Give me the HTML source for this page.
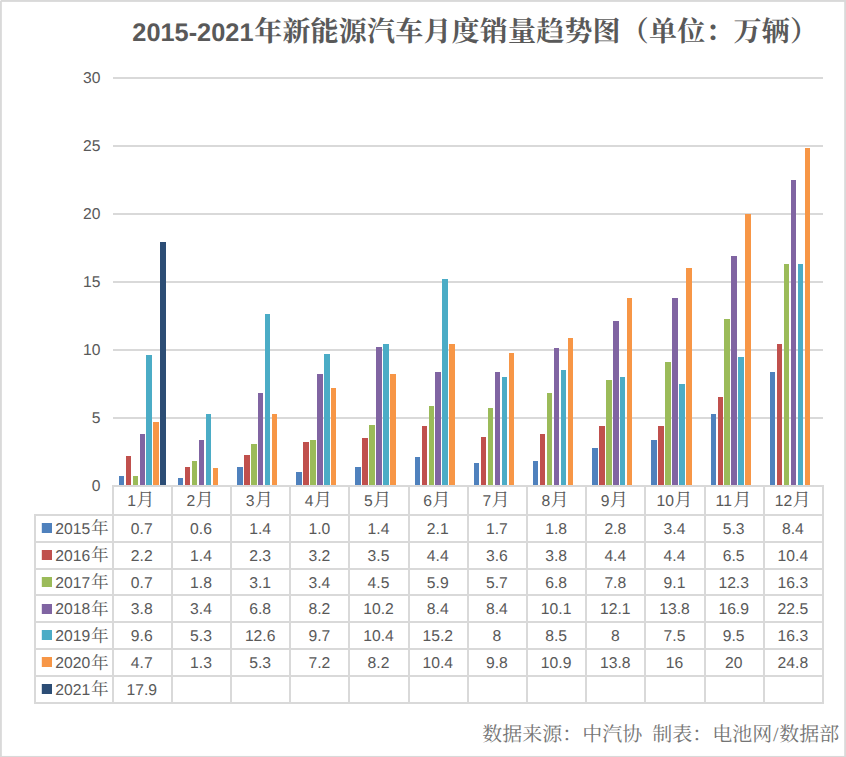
<!DOCTYPE html>
<html lang="zh"><head><meta charset="utf-8"><title>2015-2021 NEV monthly sales</title>
<style>html,body{margin:0;padding:0;background:#fff}svg{display:block}text{font-family:"Liberation Sans", sans-serif;fill:#595959;text-rendering:geometricPrecision}text.cjk{font-family:"Liberation Serif","Noto Serif CJK SC",serif}</style></head><body>
<svg width="846" height="757" viewBox="0 0 846 757" role="img" aria-label="2015-2021年新能源汽车月度销量趋势图（单位：万辆）">
<desc>2015-2021年新能源汽车月度销量趋势图（单位：万辆）。数据来源：中汽协 制表：电池网/数据部</desc>
<rect width="846" height="757" fill="#fff"/>
<g fill="#d9d9d9"><rect x="0" y="0" width="846" height="1.9"/><rect x="0" y="0" width="1.85" height="757"/><rect x="844.2" y="0" width="1.8" height="757"/><rect x="0" y="755.95" width="846" height="1.05"/></g>
<rect x="0" y="0" width="1" height="1" fill="#f2f2f2"/>
<g fill="#d9d9d9">
<rect x="113" y="77" width="710" height="2"/>
<rect x="113" y="145" width="710" height="2"/>
<rect x="113" y="213" width="710" height="2"/>
<rect x="113" y="281" width="710" height="2"/>
<rect x="113" y="349" width="710" height="2"/>
<rect x="113" y="417" width="710" height="2"/>
</g>
<g fill="#4f81bd">
<rect x="119" y="476" width="5" height="10"/>
<rect x="178" y="478" width="5" height="8"/>
<rect x="237" y="467" width="6" height="19"/>
<rect x="296" y="472" width="6" height="14"/>
<rect x="355" y="467" width="6" height="19"/>
<rect x="415" y="457" width="5" height="29"/>
<rect x="474" y="463" width="5" height="23"/>
<rect x="533" y="461" width="5" height="25"/>
<rect x="592" y="448" width="6" height="38"/>
<rect x="651" y="440" width="6" height="46"/>
<rect x="711" y="414" width="5" height="72"/>
<rect x="770" y="372" width="5" height="114"/>
</g>
<g fill="#c0504d">
<rect x="126" y="456" width="5" height="30"/>
<rect x="185" y="467" width="5" height="19"/>
<rect x="244" y="455" width="6" height="31"/>
<rect x="303" y="442" width="6" height="44"/>
<rect x="362" y="438" width="6" height="48"/>
<rect x="422" y="426" width="5" height="60"/>
<rect x="481" y="437" width="5" height="49"/>
<rect x="540" y="434" width="5" height="52"/>
<rect x="599" y="426" width="6" height="60"/>
<rect x="658" y="426" width="6" height="60"/>
<rect x="718" y="397" width="5" height="89"/>
<rect x="777" y="344" width="5" height="142"/>
</g>
<g fill="#9bbb59">
<rect x="133" y="476" width="5" height="10"/>
<rect x="192" y="461" width="5" height="25"/>
<rect x="251" y="444" width="6" height="42"/>
<rect x="310" y="440" width="6" height="46"/>
<rect x="369" y="425" width="6" height="61"/>
<rect x="429" y="406" width="5" height="80"/>
<rect x="488" y="408" width="5" height="78"/>
<rect x="547" y="393" width="5" height="93"/>
<rect x="606" y="380" width="6" height="106"/>
<rect x="665" y="362" width="6" height="124"/>
<rect x="724" y="319" width="6" height="167"/>
<rect x="784" y="264" width="5" height="222"/>
</g>
<g fill="#8064a2">
<rect x="140" y="434" width="5" height="52"/>
<rect x="199" y="440" width="5" height="46"/>
<rect x="258" y="393" width="5" height="93"/>
<rect x="317" y="374" width="6" height="112"/>
<rect x="376" y="347" width="6" height="139"/>
<rect x="435" y="372" width="6" height="114"/>
<rect x="495" y="372" width="5" height="114"/>
<rect x="554" y="348" width="5" height="138"/>
<rect x="613" y="321" width="6" height="165"/>
<rect x="672" y="298" width="6" height="188"/>
<rect x="731" y="256" width="6" height="230"/>
<rect x="791" y="180" width="5" height="306"/>
</g>
<g fill="#4bacc6">
<rect x="146" y="355" width="6" height="131"/>
<rect x="206" y="414" width="5" height="72"/>
<rect x="265" y="314" width="5" height="172"/>
<rect x="324" y="354" width="6" height="132"/>
<rect x="383" y="344" width="6" height="142"/>
<rect x="442" y="279" width="6" height="207"/>
<rect x="502" y="377" width="5" height="109"/>
<rect x="561" y="370" width="5" height="116"/>
<rect x="620" y="377" width="5" height="109"/>
<rect x="679" y="384" width="6" height="102"/>
<rect x="738" y="357" width="6" height="129"/>
<rect x="798" y="264" width="5" height="222"/>
</g>
<g fill="#f79646">
<rect x="153" y="422" width="6" height="64"/>
<rect x="213" y="468" width="5" height="18"/>
<rect x="272" y="414" width="5" height="72"/>
<rect x="331" y="388" width="5" height="98"/>
<rect x="390" y="374" width="6" height="112"/>
<rect x="449" y="344" width="6" height="142"/>
<rect x="509" y="353" width="5" height="133"/>
<rect x="568" y="338" width="5" height="148"/>
<rect x="627" y="298" width="5" height="188"/>
<rect x="686" y="268" width="6" height="218"/>
<rect x="745" y="214" width="6" height="272"/>
<rect x="805" y="148" width="5" height="338"/>
</g>
<g fill="#2c4d75">
<rect x="160" y="242" width="6" height="244"/>
</g>
<g fill="#d9d9d9">
<rect x="112" y="485" width="712" height="2"/>
<rect x="34" y="514" width="790" height="2"/>
<rect x="34" y="541" width="790" height="2"/>
<rect x="34" y="568" width="790" height="2"/>
<rect x="34" y="594" width="790" height="2"/>
<rect x="34" y="621" width="790" height="2"/>
<rect x="34" y="648" width="790" height="2"/>
<rect x="34" y="675" width="790" height="2"/>
<rect x="34" y="702" width="790" height="2"/>
<rect x="34" y="514" width="2" height="190"/>
<rect x="112" y="485" width="2" height="219"/>
<rect x="171" y="485" width="2" height="219"/>
<rect x="230" y="485" width="2" height="219"/>
<rect x="289" y="485" width="2" height="219"/>
<rect x="348" y="485" width="2" height="219"/>
<rect x="408" y="485" width="2" height="219"/>
<rect x="467" y="485" width="2" height="219"/>
<rect x="526" y="485" width="2" height="219"/>
<rect x="585" y="485" width="2" height="219"/>
<rect x="644" y="485" width="2" height="219"/>
<rect x="704" y="485" width="2" height="219"/>
<rect x="763" y="485" width="2" height="219"/>
<rect x="822" y="485" width="2" height="219"/>
</g>
<g font-size="15.7" text-anchor="end">
<text transform="translate(100.40 491.00) scale(1 1.0)">0</text>
<text transform="translate(100.40 423.00) scale(1 1.0)">5</text>
<text transform="translate(100.40 355.00) scale(1 1.0)">10</text>
<text transform="translate(100.40 287.00) scale(1 1.0)">15</text>
<text transform="translate(100.40 219.00) scale(1 1.0)">20</text>
<text transform="translate(100.40 151.00) scale(1 1.0)">25</text>
<text transform="translate(100.40 83.00) scale(1 1.0)">30</text>
</g>
<g font-size="15.7">
<text transform="translate(127.26 505.60) scale(1 1.0)">1</text>
<text class="cjk" x="136.29" y="506.10" font-size="18.3">月</text>
<text transform="translate(186.45 505.60) scale(1 1.0)">2</text>
<text class="cjk" x="195.48" y="506.10" font-size="18.3">月</text>
<text transform="translate(245.64 505.60) scale(1 1.0)">3</text>
<text class="cjk" x="254.67" y="506.10" font-size="18.3">月</text>
<text transform="translate(304.83 505.60) scale(1 1.0)">4</text>
<text class="cjk" x="313.86" y="506.10" font-size="18.3">月</text>
<text transform="translate(364.02 505.60) scale(1 1.0)">5</text>
<text class="cjk" x="373.05" y="506.10" font-size="18.3">月</text>
<text transform="translate(423.21 505.60) scale(1 1.0)">6</text>
<text class="cjk" x="432.24" y="506.10" font-size="18.3">月</text>
<text transform="translate(482.40 505.60) scale(1 1.0)">7</text>
<text class="cjk" x="491.43" y="506.10" font-size="18.3">月</text>
<text transform="translate(541.59 505.60) scale(1 1.0)">8</text>
<text class="cjk" x="550.62" y="506.10" font-size="18.3">月</text>
<text transform="translate(600.78 505.60) scale(1 1.0)">9</text>
<text class="cjk" x="609.81" y="506.10" font-size="18.3">月</text>
<text transform="translate(656.41 505.60) scale(1 1.0)">10</text>
<text class="cjk" x="674.16" y="506.10" font-size="18.3">月</text>
<text transform="translate(715.60 505.60) scale(1 1.0)">11</text>
<text class="cjk" x="733.35" y="506.10" font-size="18.3">月</text>
<text transform="translate(774.79 505.60) scale(1 1.0)">12</text>
<text class="cjk" x="792.54" y="506.10" font-size="18.3">月</text>
</g>
<g font-size="15.7" text-anchor="middle">
<text transform="translate(141.78 533.80) scale(1 1.0)">0.7</text>
<text transform="translate(200.97 533.80) scale(1 1.0)">0.6</text>
<text transform="translate(260.15 533.80) scale(1 1.0)">1.4</text>
<text transform="translate(319.35 533.80) scale(1 1.0)">1.0</text>
<text transform="translate(378.53 533.80) scale(1 1.0)">1.4</text>
<text transform="translate(437.73 533.80) scale(1 1.0)">2.1</text>
<text transform="translate(496.91 533.80) scale(1 1.0)">1.7</text>
<text transform="translate(556.11 533.80) scale(1 1.0)">1.8</text>
<text transform="translate(615.30 533.80) scale(1 1.0)">2.8</text>
<text transform="translate(674.49 533.80) scale(1 1.0)">3.4</text>
<text transform="translate(733.67 533.80) scale(1 1.0)">5.3</text>
<text transform="translate(792.87 533.80) scale(1 1.0)">8.4</text>
<text transform="translate(141.78 560.66) scale(1 1.0)">2.2</text>
<text transform="translate(200.97 560.66) scale(1 1.0)">1.4</text>
<text transform="translate(260.15 560.66) scale(1 1.0)">2.3</text>
<text transform="translate(319.35 560.66) scale(1 1.0)">3.2</text>
<text transform="translate(378.53 560.66) scale(1 1.0)">3.5</text>
<text transform="translate(437.73 560.66) scale(1 1.0)">4.4</text>
<text transform="translate(496.91 560.66) scale(1 1.0)">3.6</text>
<text transform="translate(556.11 560.66) scale(1 1.0)">3.8</text>
<text transform="translate(615.30 560.66) scale(1 1.0)">4.4</text>
<text transform="translate(674.49 560.66) scale(1 1.0)">4.4</text>
<text transform="translate(733.67 560.66) scale(1 1.0)">6.5</text>
<text transform="translate(792.87 560.66) scale(1 1.0)">10.4</text>
<text transform="translate(141.78 587.51) scale(1 1.0)">0.7</text>
<text transform="translate(200.97 587.51) scale(1 1.0)">1.8</text>
<text transform="translate(260.15 587.51) scale(1 1.0)">3.1</text>
<text transform="translate(319.35 587.51) scale(1 1.0)">3.4</text>
<text transform="translate(378.53 587.51) scale(1 1.0)">4.5</text>
<text transform="translate(437.73 587.51) scale(1 1.0)">5.9</text>
<text transform="translate(496.91 587.51) scale(1 1.0)">5.7</text>
<text transform="translate(556.11 587.51) scale(1 1.0)">6.8</text>
<text transform="translate(615.30 587.51) scale(1 1.0)">7.8</text>
<text transform="translate(674.49 587.51) scale(1 1.0)">9.1</text>
<text transform="translate(733.67 587.51) scale(1 1.0)">12.3</text>
<text transform="translate(792.87 587.51) scale(1 1.0)">16.3</text>
<text transform="translate(141.78 614.37) scale(1 1.0)">3.8</text>
<text transform="translate(200.97 614.37) scale(1 1.0)">3.4</text>
<text transform="translate(260.15 614.37) scale(1 1.0)">6.8</text>
<text transform="translate(319.35 614.37) scale(1 1.0)">8.2</text>
<text transform="translate(378.53 614.37) scale(1 1.0)">10.2</text>
<text transform="translate(437.73 614.37) scale(1 1.0)">8.4</text>
<text transform="translate(496.91 614.37) scale(1 1.0)">8.4</text>
<text transform="translate(556.11 614.37) scale(1 1.0)">10.1</text>
<text transform="translate(615.30 614.37) scale(1 1.0)">12.1</text>
<text transform="translate(674.49 614.37) scale(1 1.0)">13.8</text>
<text transform="translate(733.67 614.37) scale(1 1.0)">16.9</text>
<text transform="translate(792.87 614.37) scale(1 1.0)">22.5</text>
<text transform="translate(141.78 641.23) scale(1 1.0)">9.6</text>
<text transform="translate(200.97 641.23) scale(1 1.0)">5.3</text>
<text transform="translate(260.15 641.23) scale(1 1.0)">12.6</text>
<text transform="translate(319.35 641.23) scale(1 1.0)">9.7</text>
<text transform="translate(378.53 641.23) scale(1 1.0)">10.4</text>
<text transform="translate(437.73 641.23) scale(1 1.0)">15.2</text>
<text transform="translate(496.91 641.23) scale(1 1.0)">8</text>
<text transform="translate(556.11 641.23) scale(1 1.0)">8.5</text>
<text transform="translate(615.30 641.23) scale(1 1.0)">8</text>
<text transform="translate(674.49 641.23) scale(1 1.0)">7.5</text>
<text transform="translate(733.67 641.23) scale(1 1.0)">9.5</text>
<text transform="translate(792.87 641.23) scale(1 1.0)">16.3</text>
<text transform="translate(141.78 668.08) scale(1 1.0)">4.7</text>
<text transform="translate(200.97 668.08) scale(1 1.0)">1.3</text>
<text transform="translate(260.15 668.08) scale(1 1.0)">5.3</text>
<text transform="translate(319.35 668.08) scale(1 1.0)">7.2</text>
<text transform="translate(378.53 668.08) scale(1 1.0)">8.2</text>
<text transform="translate(437.73 668.08) scale(1 1.0)">10.4</text>
<text transform="translate(496.91 668.08) scale(1 1.0)">9.8</text>
<text transform="translate(556.11 668.08) scale(1 1.0)">10.9</text>
<text transform="translate(615.30 668.08) scale(1 1.0)">13.8</text>
<text transform="translate(674.49 668.08) scale(1 1.0)">16</text>
<text transform="translate(733.67 668.08) scale(1 1.0)">20</text>
<text transform="translate(792.87 668.08) scale(1 1.0)">24.8</text>
<text transform="translate(141.78 694.94) scale(1 1.0)">17.9</text>
</g>
<g font-size="15.7">
<rect x="41.8" y="523" width="10.2" height="10" fill="#4f81bd"/>
<text transform="translate(55.30 533.80) scale(1 1.0)">2015</text>
<text class="cjk" x="90.90" y="534.35" font-size="17.7">年</text>
<rect x="41.8" y="550" width="10.2" height="10" fill="#c0504d"/>
<text transform="translate(55.30 560.66) scale(1 1.0)">2016</text>
<text class="cjk" x="90.90" y="561.21" font-size="17.7">年</text>
<rect x="41.8" y="577" width="10.2" height="10" fill="#9bbb59"/>
<text transform="translate(55.30 587.51) scale(1 1.0)">2017</text>
<text class="cjk" x="90.90" y="588.06" font-size="17.7">年</text>
<rect x="41.8" y="604" width="10.2" height="10" fill="#8064a2"/>
<text transform="translate(55.30 614.37) scale(1 1.0)">2018</text>
<text class="cjk" x="90.90" y="614.92" font-size="17.7">年</text>
<rect x="41.8" y="630" width="10.2" height="10" fill="#4bacc6"/>
<text transform="translate(55.30 641.23) scale(1 1.0)">2019</text>
<text class="cjk" x="90.90" y="641.78" font-size="17.7">年</text>
<rect x="41.8" y="657" width="10.2" height="10" fill="#f79646"/>
<text transform="translate(55.30 668.08) scale(1 1.0)">2020</text>
<text class="cjk" x="90.90" y="668.63" font-size="17.7">年</text>
<rect x="41.8" y="684" width="10.2" height="10" fill="#2c4d75"/>
<text transform="translate(55.30 694.94) scale(1 1.0)">2021</text>
<text class="cjk" x="90.90" y="695.49" font-size="17.7">年</text>
</g>
<text transform="translate(132.3 41)" font-size="25.35" font-weight="bold">2015-2021</text>
<text class="cjk" x="254.2" y="41" font-size="28" font-weight="bold" letter-spacing="0.2">年新能源汽车月度销量趋势图（单位：万辆）</text>
<text class="cjk" x="482.3" y="741" font-size="20" style="fill:#747474">数据来源：中汽协</text>
<text class="cjk" x="652.3" y="741" font-size="20" style="fill:#747474">制表：电池网</text>
<text class="cjk" x="773" y="741" font-size="20" style="fill:#747474">/</text>
<text class="cjk" x="779.3" y="741" font-size="20" style="fill:#747474">数据部</text>
</svg></body></html>
